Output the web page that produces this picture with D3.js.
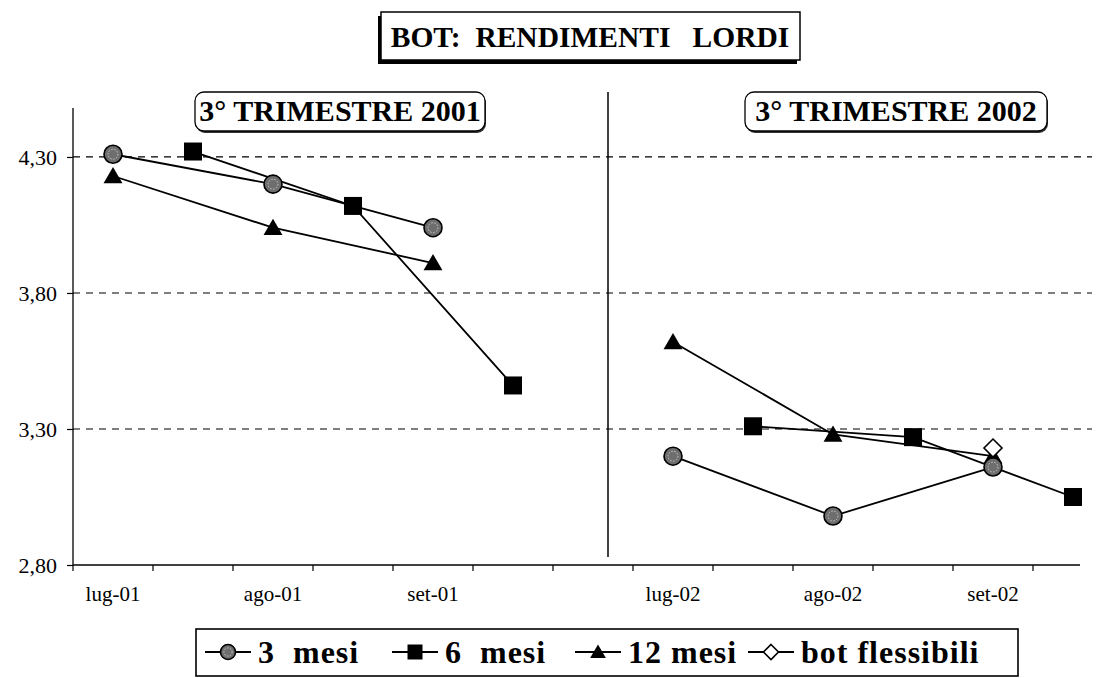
<!DOCTYPE html>
<html>
<head>
<meta charset="utf-8">
<script src="https://cdn.jsdelivr.net/npm/d3@7/dist/d3.min.js"></script>
<style>
  body { margin: 0; background: #fff; }
</style>
</head>
<body>
<div id="chart"></div>
<script>
// Data :
var slotLabels = ["lug-01", "", "ago-01", "", "set-01", "", "",
                  "lug-02", "", "ago-02", "", "set-02", ""];
var periodStart = [0, 7];          // first slot of each quarter
var periodNames = ["3° TRIMESTRE 2001", "3° TRIMESTRE 2002"];
var yTicks = [2.80, 3.30, 3.80, 4.30];

var mesi3_2001 = [4.31, 4.20, 4.04],
    mesi3_2002 = [3.20, 2.98, 3.16];
var mesi6_2001 = [4.32, 4.12, 3.46],
    mesi6_2002 = [3.31, 3.27, 3.05];
var mesi12_2001 = [4.23, 4.04, 3.91],
    mesi12_2002 = [3.62, 3.28, 3.20];
var flessibili_2001 = [null, null, null],
    flessibili_2002 = [null, null, 3.23];

var series = [
  {name: "3  mesi",        marker: "circle",   offset: 0, values: [mesi3_2001, mesi3_2002]},
  {name: "6  mesi",        marker: "square",   offset: 1, values: [mesi6_2001, mesi6_2002]},
  {name: "12 mesi",        marker: "triangle", offset: 0, values: [mesi12_2001, mesi12_2002]},
  {name: "bot flessibili", marker: "diamond",  offset: 0, values: [flessibili_2001, flessibili_2002]}
];

// Global Variables :
var width = 1107,
    height = 678;
var serif = "'Liberation Serif', 'Times New Roman', 'DejaVu Serif', serif";

var svg = d3.select("#chart").append("svg")
  .attr("width", width)
  .attr("height", height)
  .attr("font-family", serif);

var x = d3.scaleBand()
  .domain(d3.range(slotLabels.length))
  .range([73, 1113]);

var y = d3.scaleLinear()
  .domain([2.80, 4.48])
  .range([565, 108]);

// points of one series, one array per quarter
function seriesPoints(s) {
  return s.values.map(function(vals, p) {
    var pts = [];
    vals.forEach(function(v, k) {
      if (v != null) pts.push({slot: periodStart[p] + 2 * k + s.offset, value: v});
    });
    return pts;
  });
}

// Grid lines
svg.append("g").selectAll("line")
  .data(yTicks.filter(function(d) { return d > 2.8; }))
  .enter().append("line")
  .attr("x1", 73).attr("x2", 1092)
  .attr("y1", function(d) { return y(d); })
  .attr("y2", function(d) { return y(d); })
  .style("stroke", "#000")
  .style("stroke-width", 1.2)
  .style("stroke-dasharray", "7,6");

// Y axis
var yAxis = d3.axisLeft(y)
  .tickValues(yTicks)
  .tickSize(6)
  .tickFormat(function(d) { return d3.format(".2f")(d).replace(".", ","); });

var gy = svg.append("g").attr("transform", "translate(73,0)").call(yAxis);
gy.attr("font-family", serif);
gy.select(".domain").remove();
gy.selectAll(".tick line").style("stroke", "#000").style("stroke-width", 1.2);
gy.selectAll(".tick text")
  .attr("x", -16)
  .style("font-family", serif)
  .style("font-size", "22px")
  .style("fill", "#000");
gy.append("line")
  .attr("y1", y.range()[1]).attr("y2", 565)
  .style("stroke", "#000").style("stroke-width", 1.3);

// X axis
var xAxis = d3.axisBottom(x)
  .tickSize(0)
  .tickFormat(function(i) { return slotLabels[i]; });

var gx = svg.append("g").attr("transform", "translate(0,565)").call(xAxis);
gx.attr("font-family", serif);
gx.select(".domain").remove();
gx.selectAll(".tick text")
  .attr("y", 21)
  .style("font-family", serif)
  .style("font-size", "21px")
  .style("fill", "#000");

svg.append("line")
  .attr("x1", 73).attr("x2", 1080)
  .attr("y1", 565).attr("y2", 565)
  .style("stroke", "#000").style("stroke-width", 1.5);

svg.append("g").selectAll("line")
  .data(d3.range(slotLabels.length))
  .enter().append("line")
  .attr("x1", function(i) { return x(i); })
  .attr("x2", function(i) { return x(i); })
  .attr("y1", 565).attr("y2", 571)
  .style("stroke", "#000").style("stroke-width", 1.2);

// divider between the two quarters
svg.append("line")
  .attr("x1", 608).attr("x2", 608)
  .attr("y1", 92).attr("y2", 557)
  .style("stroke", "#000").style("stroke-width", 1.5);

// Lines
var line = d3.line()
  .x(function(d) { return x(d.slot) + x.bandwidth() / 2; })
  .y(function(d) { return y(d.value); });

series.forEach(function(s) {
  seriesPoints(s).forEach(function(pts) {
    if (pts.length > 1) {
      svg.append("path")
        .attr("d", line(pts))
        .style("fill", "none")
        .style("stroke", "#000")
        .style("stroke-width", 1.8);
    }
  });
});

// Markers
function drawMarker(g, type, cx, cy, size) {
  var h = size / 2;
  if (type == "circle") {
    g.append("circle").attr("cx", cx).attr("cy", cy).attr("r", h)
      .style("fill", "#6e6e6e").style("stroke", "#000").style("stroke-width", 1.6);
    g.append("circle").attr("cx", cx).attr("cy", cy).attr("r", h * 0.55)
      .style("fill", "none").style("stroke", "#c8c8c8").style("stroke-width", 1)
      .style("stroke-dasharray", "1.5,1.5");
  }
  else if (type == "square") {
    g.append("rect").attr("x", cx - h).attr("y", cy - h)
      .attr("width", size).attr("height", size).style("fill", "#000");
  }
  else if (type == "triangle") {
    g.append("path")
      .attr("d", "M" + cx + "," + (cy - h) + "L" + (cx + h * 1.05) + "," + (cy + h * 0.8) +
                 "L" + (cx - h * 1.05) + "," + (cy + h * 0.8) + "Z")
      .style("fill", "#000");
  }
  else if (type == "diamond") {
    g.append("path")
      .attr("d", "M" + cx + "," + (cy - h) + "L" + (cx + h) + "," + cy +
                 "L" + cx + "," + (cy + h) + "L" + (cx - h) + "," + cy + "Z")
      .style("fill", "#fff").style("stroke", "#000").style("stroke-width", 1.6);
  }
}

var markerOrder = ["triangle", "square", "circle", "diamond"];
var gm = svg.append("g");
markerOrder.forEach(function(m) {
  series.filter(function(s) { return s.marker == m; }).forEach(function(s) {
    seriesPoints(s).forEach(function(pts) {
      pts.forEach(function(d) {
        drawMarker(gm, m, x(d.slot) + x.bandwidth() / 2, y(d.value), 18);
      });
    });
  });
});

// Title
var gt = svg.append("g");
gt.append("rect").attr("x", 378).attr("y", 16).attr("width", 419).attr("height", 48)
  .style("fill", "#000");
gt.append("rect").attr("x", 381).attr("y", 12).attr("width", 419).attr("height", 48)
  .style("fill", "#fff").style("stroke", "#000").style("stroke-width", 1.5);
gt.append("text")
  .attr("x", 590).attr("y", 47)
  .attr("text-anchor", "middle")
  .style("font-family", serif)
  .style("white-space", "pre")
  .style("font-weight", "bold")
  .style("font-size", "29.5px")
  .text("BOT:  RENDIMENTI   LORDI");

// Quarter labels
var boxes = [{x: 195, w: 290}, {x: 745, w: 302}];
periodNames.forEach(function(name, i) {
  var b = boxes[i];
  svg.append("rect").attr("x", b.x + 1).attr("y", 94).attr("width", b.w).attr("height", 39)
    .attr("rx", 9).style("fill", "#333");
  svg.append("rect").attr("x", b.x).attr("y", 92).attr("width", b.w).attr("height", 39)
    .attr("rx", 9).style("fill", "#fff").style("stroke", "#000").style("stroke-width", 1.3);
  svg.append("text")
    .attr("x", b.x + b.w / 2).attr("y", 121)
    .attr("text-anchor", "middle")
    .style("font-family", serif)
    .style("font-weight", "bold")
    .style("font-size", "30px")
    .text(name);
});

// Legend
var legendX = [205, 392, 575, 748];
var gl = svg.append("g");
gl.append("rect").attr("x", 196).attr("y", 629).attr("width", 822).attr("height", 47)
  .style("fill", "#fff").style("stroke", "#000").style("stroke-width", 1.6);

series.forEach(function(s, i) {
  var lx = legendX[i];
  gl.append("line")
    .attr("x1", lx).attr("x2", lx + 46)
    .attr("y1", 652).attr("y2", 652)
    .style("stroke", "#000").style("stroke-width", 1.8);
  drawMarker(gl, s.marker, lx + 23, 652, 15);
  gl.append("text")
    .attr("x", lx + 53).attr("y", 663)
    .style("font-family", serif)
    .style("white-space", "pre")
    .style("font-weight", "bold")
    .style("font-size", "32px")
    .style("letter-spacing", "1px")
    .text(s.name);
});
</script>
</body>
</html>
